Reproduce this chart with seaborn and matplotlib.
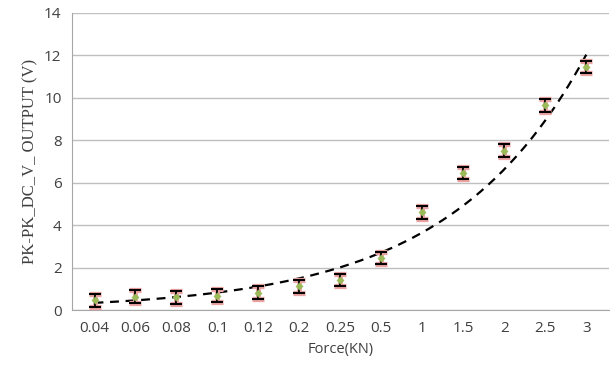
import numpy as np
import pandas as pd
import seaborn as sns
import matplotlib.pyplot as plt

# data
force = ["0.04", "0.06", "0.08", "0.1", "0.12", "0.2", "0.25", "0.5", "1", "1.5", "2", "2.5", "3"]
voltage = [0.45, 0.62, 0.6, 0.68, 0.82, 1.12, 1.42, 2.45, 4.6, 6.45, 7.5, 9.65, 11.45]
err = [0.3, 0.3, 0.3, 0.3, 0.3, 0.3, 0.3, 0.3, 0.3, 0.3, 0.3, 0.3, 0.3]

sns.set_style("white")
plt.rcParams['font.family'] = ['Open Sans', 'DejaVu Sans']

df = pd.DataFrame({"pos": np.arange(len(force)), "force": force, "v": voltage, "err": err})

# exponential trendline (fit on log values, like Excel)
b, ln_a = np.polyfit(df["pos"] + 1, np.log(df["v"]), 1)
xs = np.linspace(0, len(force) - 1, 200)
trend = pd.DataFrame({"x": xs, "y": np.exp(ln_a) * np.exp(b * (xs + 1))})

fig = plt.figure(figsize=(6.1, 3.79), dpi=100)
ax = fig.add_axes([0.118, 0.182, 0.88, 0.784])

sns.lineplot(data=trend, x="x", y="y", ax=ax, color="black", lw=1.6,
             linestyle=(0, (4, 3)), zorder=3)
# pink glow underneath, black bars on top
ax.errorbar(df["pos"], df["v"], yerr=df["err"], fmt="none", ecolor="#eba3a3",
            elinewidth=3.5, capsize=4.6, capthick=3.8, zorder=4)
ax.errorbar(df["pos"], df["v"], yerr=df["err"], fmt="none", ecolor="black",
            elinewidth=1.3, capsize=4, capthick=1.5, zorder=4.5)
sns.scatterplot(data=df, x="pos", y="v", ax=ax, marker="D", s=14,
                color="#9bbb59", edgecolor="#9bbb59", zorder=5)

ax.set_ylim(0, 14)
ax.set_yticks(range(0, 15, 2))
ax.set_xlim(-0.55, len(force) - 0.45)
ax.set_xticks(df["pos"])
ax.set_xticklabels(force)
ax.yaxis.grid(True, color="#bfbfbf", lw=1)
ax.set_axisbelow(True)
for s in ["top", "right"]:
    ax.spines[s].set_visible(False)
ax.spines["left"].set_color("#a6a6a6")
ax.spines["bottom"].set_color("#a6a6a6")
ax.tick_params(axis="y", length=4, color="#a6a6a6", labelsize=11, labelcolor="#404040")
ax.tick_params(axis="x", length=0, labelsize=11, labelcolor="#404040", pad=8)
ax.set_xlabel("Force(KN)", fontsize=10.5, color="#404040")
ax.set_ylabel("PK-PK_DC_V_ OUTPUT (V)", fontsize=12, color="#404040",
              family="Liberation Serif")

fig.savefig("out.png", dpi=100)
